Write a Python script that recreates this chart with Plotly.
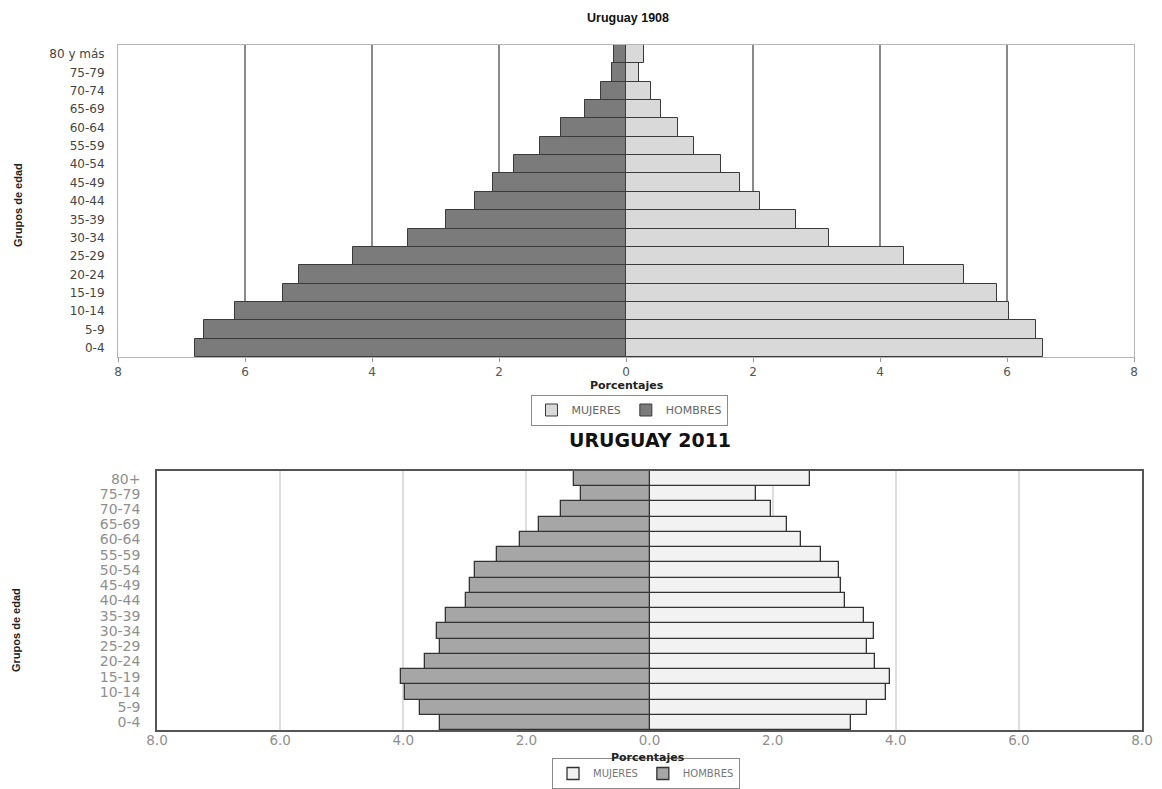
import plotly.graph_objects as go

# ---- data ----
ages_1908 = ["0-4", "5-9", "10-14", "15-19", "20-24", "25-29", "30-34", "35-39",
             "40-44", "45-49", "40-54", "55-59", "60-64", "65-69", "70-74", "75-79", "80 y más"]
hombres_1908 = [6.79, 6.64, 6.16, 5.40, 5.15, 4.30, 3.43, 2.83, 2.38, 2.10, 1.77, 1.35, 1.02, 0.64, 0.40, 0.22, 0.19]
mujeres_1908 = [6.57, 6.45, 6.03, 5.85, 5.32, 4.38, 3.19, 2.68, 2.11, 1.80, 1.49, 1.07, 0.82, 0.55, 0.40, 0.21, 0.28]

ages_2011 = ["0-4", "5-9", "10-14", "15-19", "20-24", "25-29", "30-34", "35-39",
             "40-44", "45-49", "50-54", "55-59", "60-64", "65-69", "70-74", "75-79", "80+"]
hombres_2011 = [3.41, 3.72, 3.97, 4.03, 3.65, 3.41, 3.45, 3.31, 2.98, 2.91, 2.84, 2.48, 2.11, 1.79, 1.44, 1.11, 1.23]
mujeres_2011 = [3.28, 3.53, 3.84, 3.91, 3.67, 3.53, 3.64, 3.48, 3.18, 3.11, 3.08, 2.79, 2.46, 2.23, 1.97, 1.73, 2.61]

tick_vals = [-8, -6, -4, -2, 0, 2, 4, 6, 8]
tick_text_1908 = ["8", "6", "4", "2", "0", "2", "4", "6", "8"]
tick_text_2011 = ["8.0", "6.0", "4.0", "2.0", "0.0", "2.0", "4.0", "6.0", "8.0"]

# page body has an 8px margin; map screen pixels to the figure's paper coords
OFF = 8
W, H = 1162 - OFF, 789 - OFF

def px(x):
    return (x - OFF) / W

def py(y):
    return 1 - (y - OFF) / H

DJ = "DejaVu Sans, Verdana, sans-serif"

fig = go.Figure()

# ---- top chart (1908) ----
fig.add_trace(go.Bar(
    y=ages_1908, x=mujeres_1908, orientation="h", name="MUJERES",
    marker=dict(color="#d9d9d9", line=dict(color="#3a3a3a", width=1)),
    xaxis="x", yaxis="y", legend="legend", hoverinfo="x+y"))
fig.add_trace(go.Bar(
    y=ages_1908, x=[-v for v in hombres_1908], orientation="h", name="HOMBRES",
    marker=dict(color="#7b7b7b", line=dict(color="#3a3a3a", width=1)),
    xaxis="x", yaxis="y", legend="legend", hoverinfo="x+y"))

# ---- bottom chart (2011) ----
fig.add_trace(go.Bar(
    y=ages_2011, x=mujeres_2011, orientation="h", name="MUJERES",
    marker=dict(color="#f2f2f2", line=dict(color="#333333", width=1.3)),
    xaxis="x2", yaxis="y2", legend="legend2", hoverinfo="x+y"))
fig.add_trace(go.Bar(
    y=ages_2011, x=[-v for v in hombres_2011], orientation="h", name="HOMBRES",
    marker=dict(color="#a6a6a6", line=dict(color="#333333", width=1.3)),
    xaxis="x2", yaxis="y2", legend="legend2", hoverinfo="x+y"))

fig.update_layout(
    width=W, height=H,
    margin=dict(l=0, r=0, t=0, b=0, autoexpand=False),
    paper_bgcolor="white", plot_bgcolor="white",
    barmode="overlay", bargap=0,
    showlegend=True,
    font=dict(family=DJ, color="#444444", size=11),
    xaxis=dict(
        domain=[px(118), px(1134)], anchor="y", range=[-8, 8], automargin=False,
        tickvals=tick_vals, ticktext=tick_text_1908,
        tickfont=dict(family=DJ, size=12, color="#555555"),
        ticks="outside", ticklen=4, tickcolor="#999999",
        showgrid=True, gridcolor="#8a8a8a", gridwidth=1.5,
        zeroline=False, showline=True, linecolor="#b5b5b5", linewidth=1, mirror=True,
    ),
    yaxis=dict(
        domain=[py(357), py(45)], anchor="x", automargin=False,
        tickmode="linear", tick0=0, dtick=1,
        tickfont=dict(family=DJ, size=12, color="#444444"),
        showgrid=False, zeroline=False, showline=True, linecolor="#b5b5b5", linewidth=1, mirror=True,
        ticks="", ticklabelstandoff=10,
    ),
    xaxis2=dict(
        domain=[px(157), px(1142)], anchor="y2", range=[-8, 8], automargin=False,
        tickvals=tick_vals, ticktext=tick_text_2011,
        tickfont=dict(family=DJ, size=13.5, color="#8f8f8f"),
        ticks="", ticklabelstandoff=-3,
        showgrid=True, gridcolor="#dedede", gridwidth=2,
        zeroline=False, showline=True, linecolor="#555555", linewidth=1.5, mirror=True,
    ),
    yaxis2=dict(
        domain=[py(730), py(471)], anchor="x2", automargin=False,
        tickmode="linear", tick0=0, dtick=1,
        tickfont=dict(family=DJ, size=14, color="#8f8f8f"),
        showgrid=False, zeroline=False, showline=True, linecolor="#555555", linewidth=1.5, mirror=True,
        ticks="", ticklabelstandoff=12,
    ),
    legend=dict(
        orientation="h", x=px(629), y=py(410), xanchor="center", yanchor="middle",
        bgcolor="white", bordercolor="#8a8a8a", borderwidth=1,
        font=dict(family=DJ, size=11, color="#666666"), itemwidth=30, traceorder="normal",
    ),
    legend2=dict(
        orientation="h", x=px(646), y=0, xanchor="center", yanchor="bottom",
        bgcolor="white", bordercolor="#8a8a8a", borderwidth=1,
        font=dict(family=DJ, size=10, color="#777777"),
        itemwidth=30, traceorder="normal",
    ),
    annotations=[
        dict(text="<b>Uruguay 1908</b>", x=px(628), y=py(18), xref="paper", yref="paper",
             xanchor="center", yanchor="middle", showarrow=False,
             font=dict(family="Liberation Sans, Arial", size=12.5, color="#111111")),
        dict(text="<b>Porcentajes</b>", x=px(627), y=py(385), xref="paper", yref="paper",
             xanchor="center", yanchor="middle", showarrow=False,
             font=dict(family=DJ, size=11, color="#222222")),
        dict(text="<b>Grupos de edad</b>", x=px(18), y=py(205), xref="paper", yref="paper",
             xanchor="center", yanchor="middle", showarrow=False, textangle=-90,
             font=dict(size=11, color="#222222", family="Liberation Sans Narrow, Liberation Sans, Arial")),
        dict(text="<b>URUGUAY 2011</b>", x=px(650), y=py(440), xref="paper", yref="paper",
             xanchor="center", yanchor="middle", showarrow=False,
             font=dict(family=DJ, size=19, color="#111111")),
        dict(text="<b>Porcentajes</b>", x=px(648), y=py(757), xref="paper", yref="paper",
             xanchor="center", yanchor="middle", showarrow=False,
             font=dict(family=DJ, size=11, color="#222222")),
        dict(text="<b>Grupos de edad</b>", x=px(16), y=py(630), xref="paper", yref="paper",
             xanchor="center", yanchor="middle", showarrow=False, textangle=-90,
             font=dict(size=11, color="#222222", family="Liberation Sans Narrow, Liberation Sans, Arial")),
    ],
)

fig.write_html("out.html")
